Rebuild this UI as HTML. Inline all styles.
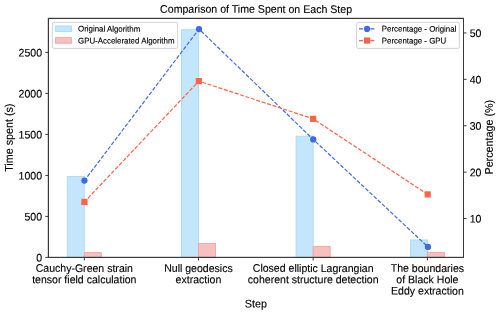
<!DOCTYPE html>
<html><head><meta charset="utf-8"><style>
html,body{margin:0;padding:0;background:#fff;}
svg{display:block;will-change:transform;}
text{font-family:"Liberation Sans",sans-serif;font-size:10.55px;fill:#000;stroke:#000;stroke-width:0.12px;text-rendering:geometricPrecision;}
</style></head><body>
<svg width="500" height="315" viewBox="0 0 500 315">
<rect x="0" y="0" width="500" height="315" fill="#fff"/>
<rect x="67.30" y="176.47" width="17.00" height="80.93" fill="rgb(195,230,252)" stroke="rgb(165,218,251)" stroke-width="0.88"/>
<rect x="181.45" y="29.69" width="17.00" height="227.71" fill="rgb(195,230,252)" stroke="rgb(165,218,251)" stroke-width="0.88"/>
<rect x="296.15" y="136.20" width="17.00" height="121.20" fill="rgb(195,230,252)" stroke="rgb(165,218,251)" stroke-width="0.88"/>
<rect x="410.40" y="239.93" width="17.00" height="17.47" fill="rgb(195,230,252)" stroke="rgb(165,218,251)" stroke-width="0.88"/>
<rect x="84.30" y="252.64" width="17.00" height="4.76" fill="rgb(247,191,191)" stroke="rgb(243,160,160)" stroke-width="0.88"/>
<rect x="198.45" y="243.46" width="17.00" height="13.94" fill="rgb(247,191,191)" stroke="rgb(243,160,160)" stroke-width="0.88"/>
<rect x="313.15" y="246.41" width="17.00" height="10.99" fill="rgb(247,191,191)" stroke="rgb(243,160,160)" stroke-width="0.88"/>
<rect x="427.40" y="252.32" width="17.00" height="5.08" fill="rgb(247,191,191)" stroke="rgb(243,160,160)" stroke-width="0.88"/>
<rect x="48.4" y="18.4" width="415.10" height="239.00" fill="none" stroke="#383838" stroke-width="1.0"/>
<line x1="45.33" y1="257.40" x2="48.4" y2="257.40" stroke="#383838" stroke-width="1.0"/>
<text transform="matrix(0.999999,0.001047,-0.001089,1.039999,42.03,261.45)" text-anchor="end">0</text>
<line x1="45.33" y1="216.40" x2="48.4" y2="216.40" stroke="#383838" stroke-width="1.0"/>
<text transform="matrix(0.999999,0.001047,-0.001089,1.039999,42.03,220.45)" text-anchor="end">500</text>
<line x1="45.33" y1="175.40" x2="48.4" y2="175.40" stroke="#383838" stroke-width="1.0"/>
<text transform="matrix(0.999999,0.001047,-0.001089,1.039999,42.03,179.45)" text-anchor="end">1000</text>
<line x1="45.33" y1="134.40" x2="48.4" y2="134.40" stroke="#383838" stroke-width="1.0"/>
<text transform="matrix(0.999999,0.001047,-0.001089,1.039999,42.03,138.45)" text-anchor="end">1500</text>
<line x1="45.33" y1="93.40" x2="48.4" y2="93.40" stroke="#383838" stroke-width="1.0"/>
<text transform="matrix(0.999999,0.001047,-0.001089,1.039999,42.03,97.45)" text-anchor="end">2000</text>
<line x1="45.33" y1="52.40" x2="48.4" y2="52.40" stroke="#383838" stroke-width="1.0"/>
<text transform="matrix(0.999999,0.001047,-0.001089,1.039999,42.03,56.45)" text-anchor="end">2500</text>
<line x1="84.30" y1="257.4" x2="84.30" y2="260.47" stroke="#383838" stroke-width="1.0"/>
<text transform="matrix(0.999999,0.001047,-0.001089,1.039999,84.30,271.90)" text-anchor="middle">Cauchy-Green strain</text>
<text transform="matrix(0.999999,0.001047,-0.001089,1.039999,84.30,283.25)" text-anchor="middle">tensor field calculation</text>
<line x1="198.45" y1="257.4" x2="198.45" y2="260.47" stroke="#383838" stroke-width="1.0"/>
<text transform="matrix(0.999999,0.001047,-0.001089,1.039999,198.45,271.90)" text-anchor="middle">Null geodesics</text>
<text transform="matrix(0.999999,0.001047,-0.001089,1.039999,198.45,283.25)" text-anchor="middle">extraction</text>
<line x1="313.15" y1="257.4" x2="313.15" y2="260.47" stroke="#383838" stroke-width="1.0"/>
<text transform="matrix(0.999999,0.001047,-0.001089,1.039999,313.15,271.90)" text-anchor="middle">Closed elliptic Lagrangian</text>
<text transform="matrix(0.999999,0.001047,-0.001089,1.039999,313.15,283.25)" text-anchor="middle">coherent structure detection</text>
<line x1="427.40" y1="257.4" x2="427.40" y2="260.47" stroke="#383838" stroke-width="1.0"/>
<text transform="matrix(0.999999,0.001047,-0.001089,1.039999,427.40,271.90)" text-anchor="middle">The boundaries</text>
<text transform="matrix(0.999999,0.001047,-0.001089,1.039999,427.40,283.25)" text-anchor="middle">of Black Hole</text>
<text transform="matrix(0.999999,0.001047,-0.001089,1.039999,427.40,294.60)" text-anchor="middle">Eddy extraction</text>
<text transform="matrix(0.999999,0.001047,-0.001089,1.039999,255.85,307.60)" text-anchor="middle" style="font-size:10.75px">Step</text>
<text transform="matrix(0.001047,-0.999999,1.039999,0.001089,12.70,137.70)" text-anchor="middle" style="font-size:10.75px">Time spent (s)</text>
<text transform="matrix(0.999999,0.001047,-0.001089,1.039999,256.10,12.85)" text-anchor="middle" style="font-size:10.6px">Comparison of Time Spent on Each Step</text>
<rect x="52.4" y="22.4" width="125.3" height="26" rx="1.6" fill="#fff" fill-opacity="0.8" stroke="#ccc" stroke-width="0.88"/>
<rect x="55.6" y="26.0" width="15.8" height="5.5" fill="rgb(195,230,252)" stroke="rgb(165,218,251)" stroke-width="0.88"/>
<rect x="55.6" y="37.7" width="15.8" height="5.5" fill="rgb(247,191,191)" stroke="rgb(243,160,160)" stroke-width="0.88"/>
<text transform="matrix(0.999999,0.001047,-0.001089,1.039999,78.00,31.60)" style="font-size:7.9px">Original Algorithm</text>
<text transform="matrix(0.999999,0.001047,-0.001089,1.039999,78.00,43.40)" style="font-size:7.9px">GPU-Accelerated Algorithm</text>
<polyline points="84.44,180.60 199.00,29.05 313.25,139.45 427.95,246.95" fill="none" stroke="#4169E1" stroke-width="1.2" stroke-dasharray="3.972 1.718" stroke-dashoffset="0.73"/>
<circle cx="84.44" cy="180.60" r="3.15" fill="#4169E1"/>
<circle cx="199.00" cy="29.05" r="3.15" fill="#4169E1"/>
<circle cx="313.25" cy="139.45" r="3.15" fill="#4169E1"/>
<circle cx="427.95" cy="246.95" r="3.15" fill="#4169E1"/>
<polyline points="84.45,201.90 198.85,81.10 313.15,118.85 427.70,194.40" fill="none" stroke="#FF6347" stroke-width="1.2" stroke-dasharray="3.972 1.718" stroke-dashoffset="0.73"/>
<rect x="81.35" y="198.80" width="6.2" height="6.2" fill="#FF6347"/>
<rect x="195.75" y="78.00" width="6.2" height="6.2" fill="#FF6347"/>
<rect x="310.05" y="115.75" width="6.2" height="6.2" fill="#FF6347"/>
<rect x="424.60" y="191.30" width="6.2" height="6.2" fill="#FF6347"/>
<rect x="48.4" y="18.4" width="415.10" height="239.00" fill="none" stroke="#383838" stroke-width="1.0"/>
<line x1="463.5" y1="218.55" x2="466.57" y2="218.55" stroke="#383838" stroke-width="1.0"/>
<text transform="matrix(0.999999,0.001047,-0.001089,1.039999,469.67,222.60)">10</text>
<line x1="463.5" y1="172.15" x2="466.57" y2="172.15" stroke="#383838" stroke-width="1.0"/>
<text transform="matrix(0.999999,0.001047,-0.001089,1.039999,469.67,176.20)">20</text>
<line x1="463.5" y1="125.75" x2="466.57" y2="125.75" stroke="#383838" stroke-width="1.0"/>
<text transform="matrix(0.999999,0.001047,-0.001089,1.039999,469.67,129.80)">30</text>
<line x1="463.5" y1="79.35" x2="466.57" y2="79.35" stroke="#383838" stroke-width="1.0"/>
<text transform="matrix(0.999999,0.001047,-0.001089,1.039999,469.67,83.40)">40</text>
<line x1="463.5" y1="32.95" x2="466.57" y2="32.95" stroke="#383838" stroke-width="1.0"/>
<text transform="matrix(0.999999,0.001047,-0.001089,1.039999,469.67,37.00)">50</text>
<text transform="matrix(0.001047,-0.999999,1.039999,0.001089,492.70,137.20)" text-anchor="middle" style="font-size:10.75px">Percentage (%)</text>
<rect x="356.6" y="22.4" width="102.8" height="26" rx="1.6" fill="#fff" fill-opacity="0.8" stroke="#ccc" stroke-width="0.88"/>
<line x1="359" y1="28.9" x2="374.8" y2="28.9" stroke="#4169E1" stroke-width="1.2" stroke-dasharray="3.972 1.718"/>
<circle cx="367.05" cy="28.9" r="3.1" fill="#4169E1"/>
<line x1="359" y1="40.55" x2="374.8" y2="40.55" stroke="#FF6347" stroke-width="1.2" stroke-dasharray="3.972 1.718"/>
<rect x="364.0" y="37.45" width="6.2" height="6.2" fill="#FF6347"/>
<text transform="matrix(0.999999,0.001047,-0.001089,1.039999,381.80,31.60)" style="font-size:7.9px">Percentage - Original</text>
<text transform="matrix(0.999999,0.001047,-0.001089,1.039999,381.80,43.40)" style="font-size:7.9px">Percentage - GPU</text>
</svg>
</body></html>
